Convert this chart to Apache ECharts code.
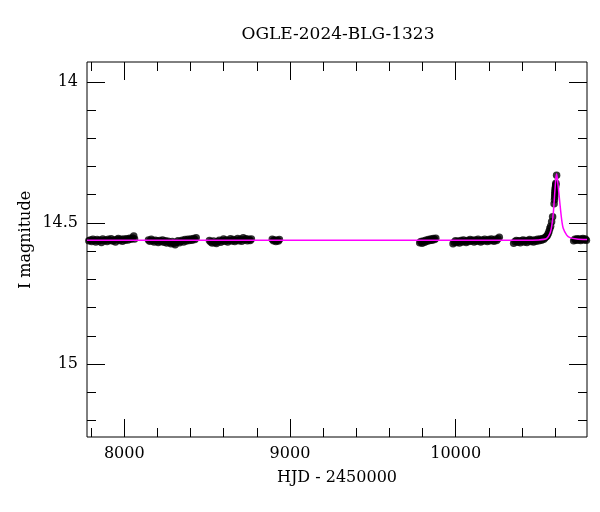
<!DOCTYPE html>
<html>
<head>
<meta charset="utf-8">
<script src="https://cdn.jsdelivr.net/npm/echarts@6/dist/echarts.min.js"></script>
<style>html,body{margin:0;padding:0;background:#fff}#c{width:600px;height:512px}</style>
</head>
<body>
<div id="c"></div>
<script>
// ---- data (HJD - 2450000, I magnitude) ----
var season1 = [[7786,14.563],[7795,14.560],[7803,14.566],[7811,14.558],[7820,14.562],[7828,14.567],[7836,14.559],[7845,14.564],[7853,14.561],[7862,14.569],[7870,14.557],[7879,14.563],[7887,14.560],[7896,14.566],[7904,14.558],[7913,14.562],[7921,14.556],[7930,14.564],[7938,14.560],[7947,14.567],[7955,14.559],[7964,14.555],[7972,14.562],[7981,14.558],[7989,14.565],[7998,14.557],[8006,14.561],[8015,14.556],[8023,14.560],[8032,14.554],[8040,14.558],[8049,14.553],[8057,14.546],[8062,14.557]];
var season2 = [[8146,14.560],[8154,14.565],[8163,14.558],[8171,14.563],[8180,14.567],[8188,14.561],[8197,14.564],[8205,14.569],[8214,14.562],[8222,14.566],[8231,14.560],[8239,14.568],[8248,14.563],[8256,14.571],[8265,14.565],[8273,14.569],[8282,14.574],[8290,14.566],[8299,14.572],[8307,14.577],[8316,14.568],[8324,14.563],[8333,14.570],[8341,14.565],[8350,14.561],[8358,14.567],[8367,14.559],[8375,14.564],[8384,14.558],[8392,14.562],[8401,14.557],[8409,14.561],[8418,14.555],[8426,14.559],[8434,14.552]];
var season3 = [[8514,14.562],[8522,14.567],[8531,14.571],[8539,14.564],[8548,14.569],[8556,14.573],[8565,14.566],[8573,14.561],[8582,14.568],[8590,14.563],[8599,14.557],[8607,14.565],[8616,14.560],[8624,14.567],[8633,14.562],[8641,14.556],[8650,14.564],[8658,14.559],[8667,14.566],[8675,14.561],[8684,14.555],[8692,14.563],[8701,14.558],[8709,14.565],[8718,14.552],[8726,14.560],[8735,14.556],[8743,14.563],[8752,14.558],[8760,14.562],[8767,14.557]];
var season4 = [[8893,14.558],[8900,14.563],[8907,14.560],[8915,14.566],[8922,14.561],[8930,14.564],[8936,14.559]];
var season5 = [[9783,14.570],[9790,14.566],[9798,14.572],[9805,14.564],[9813,14.568],[9820,14.561],[9828,14.565],[9835,14.559],[9843,14.562],[9850,14.557],[9858,14.561],[9865,14.555],[9873,14.559],[9880,14.554]];
var season6 = [[9984,14.574],[9991,14.568],[9999,14.563],[10007,14.569],[10015,14.565],[10023,14.571],[10031,14.562],[10039,14.567],[10047,14.560],[10055,14.565],[10063,14.569],[10071,14.562],[10079,14.566],[10087,14.559],[10095,14.564],[10103,14.561],[10111,14.567],[10119,14.560],[10127,14.565],[10135,14.558],[10143,14.563],[10151,14.567],[10159,14.560],[10167,14.564],[10175,14.558],[10183,14.562],[10191,14.566],[10199,14.559],[10207,14.563],[10215,14.557],[10223,14.561],[10231,14.565],[10239,14.558],[10247,14.562],[10255,14.556],[10263,14.551]];
var season7 = [[10350,14.572],[10358,14.566],[10366,14.562],[10374,14.568],[10382,14.563],[10390,14.570],[10398,14.564],[10406,14.560],[10414,14.567],[10422,14.562],[10430,14.569],[10438,14.563],[10446,14.559],[10454,14.566],[10462,14.561],[10470,14.567],[10478,14.560],[10486,14.565],[10494,14.558],[10502,14.563],[10510,14.557],[10518,14.561],[10525,14.555],[10532,14.558],[10539,14.552],[10546,14.549],[10552,14.545],[10558,14.538],[10563,14.530],[10568,14.520],[10573,14.512],[10579,14.496],[10585,14.478],[10594,14.432],[10596,14.418],[10597,14.408],[10598,14.399],[10599,14.392],[10600,14.386],[10601,14.380],[10602,14.374],[10603,14.369],[10604,14.364],[10605,14.359],[10609,14.331]];
var season8 = [[10712,14.563],[10719,14.558],[10726,14.561],[10733,14.556],[10740,14.560],[10747,14.557],[10754,14.562],[10761,14.558],[10768,14.555],[10775,14.560],[10782,14.557],[10789,14.561]];
var modelCurve = [[7775,14.561],[10400,14.561],[10500,14.560],[10549,14.555],[10569,14.537],[10579,14.514],[10589,14.466],[10599,14.384],[10604,14.345],[10609,14.327],[10614,14.345],[10619,14.372],[10629,14.431],[10640,14.490],[10649,14.519],[10670,14.543],[10690,14.552],[10730,14.557],[10793,14.559]];
var xMajor = [8000, 9000, 10000];
var xMinor = [7800, 8200, 8400, 8600, 8800, 9200, 9400, 9600, 9800, 10200, 10400, 10600];
var yMajor = [14, 14.5, 15];
var yMinor = [14.1, 14.2, 14.3, 14.4, 14.6, 14.7, 14.8, 14.9, 15.1, 15.2];
var titleText = 'OGLE-2024-BLG-1323';
var xName = 'HJD - 2450000';
var yName = 'I magnitude';

var FONT = 'DejaVu Serif';
var XMIN = 7775, XMAX = 10792.5, YMIN = 13.930, YMAX = 15.258;

function plain(v) { return String(v); }

function xAx(pos, vals, len, labels) {
  var a = {
    type: 'value', position: pos, min: XMIN, max: XMAX,
    axisLine: {show: false}, splitLine: {show: false},
    axisTick: {show: true, inside: true, length: len, customValues: vals, lineStyle: {color: '#000', width: 1}},
    axisLabel: {show: false}
  };
  if (labels) {
    a.axisLabel = {show: true, customValues: vals, margin: 9, color: '#000', fontFamily: FONT, fontSize: 16, formatter: plain, hideOverlap: false};
    a.name = xName; a.nameLocation = 'middle'; a.nameGap = 33; a.nameMoveOverlap = false;
    a.nameTextStyle = {color: '#000', fontFamily: FONT, fontSize: 16};
  }
  return a;
}
function yAx(pos, vals, len, labels) {
  var a = {
    type: 'value', position: pos, min: YMIN, max: YMAX, inverse: true,
    axisLine: {show: false}, splitLine: {show: false},
    axisTick: {show: true, inside: true, length: len, customValues: vals, lineStyle: {color: '#000', width: 1}},
    axisLabel: {show: false}
  };
  if (labels) {
    a.axisLabel = {show: true, customValues: vals, margin: 9, color: '#000', fontFamily: FONT, fontSize: 16, formatter: plain, hideOverlap: false, align: 'right'};
    a.name = yName; a.nameLocation = 'middle'; a.nameGap = 53; a.nameMoveOverlap = false;
    a.nameTextStyle = {color: '#000', fontFamily: FONT, fontSize: 16, padding: [0, 0, 0, 19]};
  }
  return a;
}

var allObs = [season1, season2, season3, season4, season5, season6, season7, season8];
var series = allObs.map(function (s) {
  return {type: 'scatter', data: s, symbol: 'circle', symbolSize: 7.5, itemStyle: {color: '#000'}, z: 2, clip: true, silent: true, animation: false};
});
series.push({type: 'line', data: modelCurve, showSymbol: false, smooth: 0.25, lineStyle: {color: '#ff00ff', width: 1.5}, z: 5, clip: true, silent: true, animation: false});

var chart = echarts.init(document.getElementById('c'), null, {renderer: 'canvas'});
chart.setOption({
  backgroundColor: '#fff',
  animation: false,
  title: {text: titleText, left: 333, top: 21, textAlign: 'center',
    textStyle: {color: '#000', fontFamily: FONT, fontSize: 17, fontWeight: 'normal'}},
  grid: {left: 87, right: 13, top: 62, bottom: 75, show: true, borderColor: '#000', borderWidth: 1, backgroundColor: 'transparent'},
  xAxis: [xAx('bottom', xMajor, 18, true), xAx('bottom', xMinor, 9, false), xAx('top', xMajor, 18, false), xAx('top', xMinor, 9, false)],
  yAxis: [yAx('left', yMajor, 18, true), yAx('left', yMinor, 9, false), yAx('right', yMajor, 18, false), yAx('right', yMinor, 9, false)],
  series: series
});
</script>
</body>
</html>
